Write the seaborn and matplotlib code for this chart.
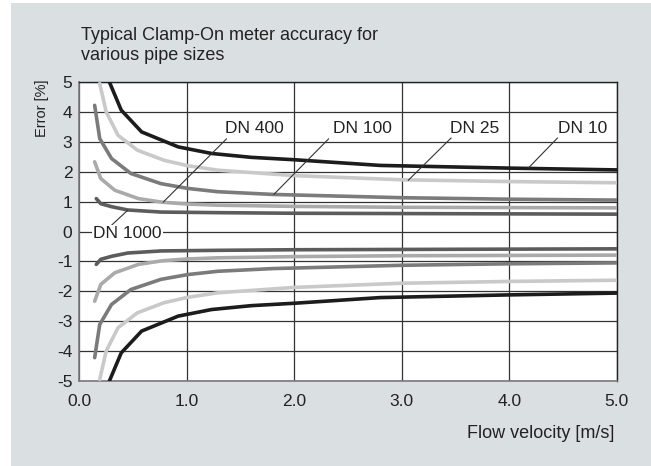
import pandas as pd
import matplotlib
matplotlib.use("Agg")
import matplotlib.pyplot as plt
import seaborn as sns
from matplotlib.patches import Rectangle

# Values (positive branch; negative branch mirrors it)
sizes = ["DN 10", "DN 25", "DN 100", "DN 400", "DN 1000"]
v_dn10 = [0.28, 0.39, 0.58, 0.92, 1.23, 1.6, 2.0, 2.8, 4.0, 5.0]
e_dn10 = [5.0, 4.06, 3.33, 2.83, 2.61, 2.48, 2.40, 2.21, 2.12, 2.06]
v_dn25 = [0.19, 0.25, 0.36, 0.54, 0.79, 1.01, 1.29, 2.0, 3.0, 4.0, 5.0]
e_dn25 = [4.95, 4.0, 3.22, 2.72, 2.38, 2.2, 2.05, 1.87, 1.73, 1.67, 1.63]
v_dn100 = [0.143, 0.19, 0.30, 0.48, 0.76, 1.01, 1.29, 1.8, 3.0, 4.0, 5.0]
e_dn100 = [4.22, 3.11, 2.44, 1.94, 1.6, 1.44, 1.33, 1.24, 1.13, 1.08, 1.05]
v_dn400 = [0.143, 0.2, 0.33, 0.55, 0.77, 1.0, 1.29, 2.0, 3.0, 5.0]
e_dn400 = [2.33, 1.77, 1.38, 1.1, 0.98, 0.92, 0.88, 0.84, 0.81, 0.79]
v_dn1000 = [0.158, 0.2, 0.3, 0.45, 0.76, 1.29, 2.0, 3.0, 5.0]
e_dn1000 = [1.1, 0.93, 0.83, 0.72, 0.65, 0.63, 0.61, 0.6, 0.58]

colors = {"DN 10": "#1c1c1c", "DN 25": "#c9c9c9", "DN 100": "#7b7b7b",
          "DN 400": "#aaaaaa", "DN 1000": "#5c5c5c"}

# label text position and leader line (start on curve, end near text), data coords
label_pos = {"DN 10": (4.68, 3.44), "DN 25": (3.68, 3.44), "DN 100": (2.63, 3.44),
             "DN 400": (1.63, 3.44), "DN 1000": (0.45, -0.07)}
leader = {"DN 10": [(4.18, 2.13), (4.45, 3.13)],
          "DN 25": [(3.06, 1.71), (3.46, 3.13)],
          "DN 100": [(1.81, 1.24), (2.32, 3.10)],
          "DN 400": [(0.78, 0.98), (1.37, 3.10)],
          "DN 1000": [(0.45, 0.71), (0.30, 0.21)]}

series = {"DN 10": (v_dn10, e_dn10), "DN 25": (v_dn25, e_dn25),
          "DN 100": (v_dn100, e_dn100), "DN 400": (v_dn400, e_dn400),
          "DN 1000": (v_dn1000, e_dn1000)}

rows = []
for name in sizes:
    v, e = series[name]
    for vi, ei in zip(v, e):
        rows.append({"size": name, "branch": "pos", "v": vi, "err": ei})
        rows.append({"size": name, "branch": "neg", "v": vi, "err": -ei})
df = pd.DataFrame(rows)

sns.set_style("white")
plt.rcParams["font.family"] = ["Liberation Sans", "DejaVu Sans"]
plt.rcParams["axes.unicode_minus"] = False

fig = plt.figure(figsize=(6.51, 4.66), dpi=100, facecolor="white")
fig.patches.append(Rectangle((11 / 651, 0), 1, 463 / 466, transform=fig.transFigure,
                             facecolor="#dadfe2", edgecolor="none", zorder=-10))
ax = fig.add_axes([79.3 / 651, 85 / 466, 537.4 / 651, 299 / 466])
ax.set_zorder(2)
ax.set_facecolor("white")

ax.set_xlim(0, 5)
ax.set_ylim(-5, 5)
ax.set_xticks([0, 1, 2, 3, 4, 5])
ax.set_xticklabels(["0.0", "1.0", "2.0", "3.0", "4.0", "5.0"])
ax.set_yticks(range(-5, 6))
ax.grid(True, color="#333333", lw=0.9)
ax.set_axisbelow(True)

sns.lineplot(data=df, x="v", y="err", hue="size", units="branch", estimator=None,
             sort=False, palette=colors, legend=False, lw=2.6, ax=ax, zorder=3)

for name in sizes:
    (x0, y0), (x1, y1) = leader[name]
    ax.plot([x0, x1], [y0, y1], color="#333333", lw=0.8, zorder=4)
    tx, ty = label_pos[name]
    bbox = None
    if name == "DN 1000":
        bbox = dict(facecolor="white", edgecolor="none", pad=1)
    ax.text(tx, ty, name, ha="center", va="center", fontsize=12.5, color="#222222",
            bbox=bbox, zorder=5)

for s in ["top", "right"]:
    ax.spines[s].set_color("#222222")
    ax.spines[s].set_linewidth(1.0)
for s in ["left", "bottom"]:
    ax.spines[s].set_color("#7a7a7a")
    ax.spines[s].set_linewidth(1.2)
ax.tick_params(axis="both", direction="out", colors="#7a7a7a", labelcolor="#222222",
               labelsize=12.5)
ax.tick_params(axis="y", length=3, pad=2)
ax.tick_params(axis="x", length=5, pad=4)
ax.set_xlabel("")
ax.set_ylabel("")

fig.text(81 / 651, 1 - 27 / 466, "Typical Clamp-On meter accuracy for\nvarious pipe sizes",
         ha="left", va="top", fontsize=13, color="#222222", linespacing=1.25)
fig.text(42 / 651, 1 - 108 / 466, "Error [%]", rotation=90, ha="center", va="center",
         fontsize=10.5, color="#222222")
fig.text(614 / 651, 1 - 434 / 466, "Flow velocity [m/s]", ha="right", va="center",
         fontsize=13, color="#222222")

fig.savefig("out.png", dpi=100, facecolor="white")
